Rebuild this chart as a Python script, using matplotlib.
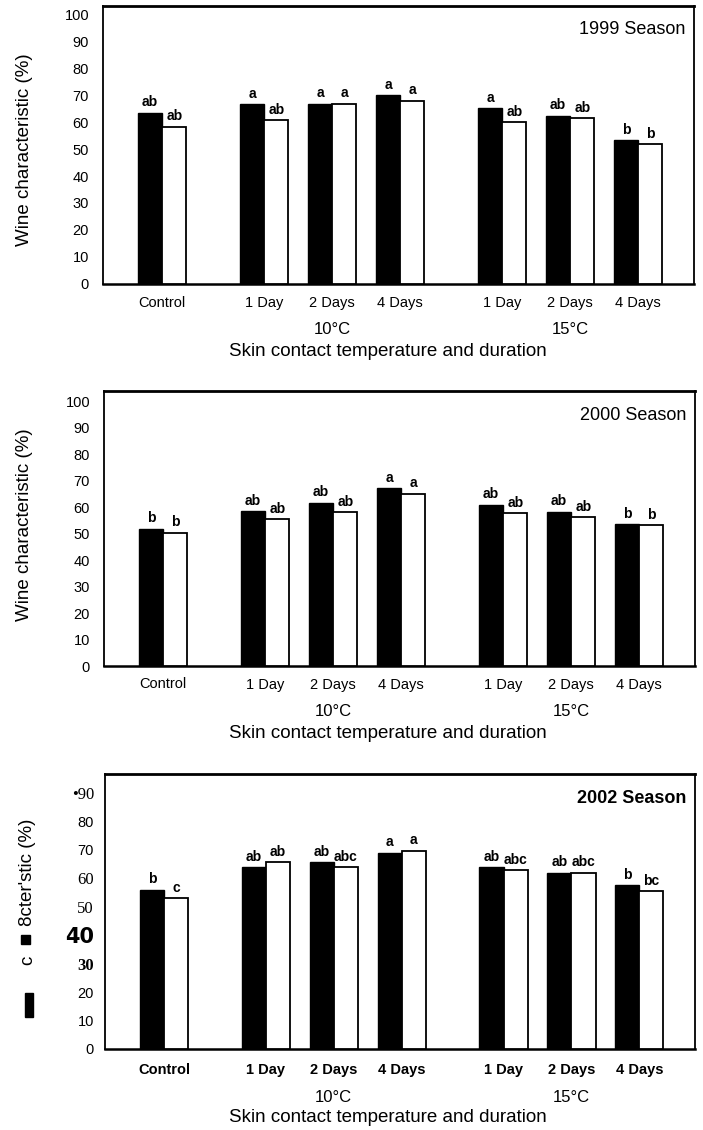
import matplotlib
matplotlib.use("Agg")
import matplotlib.pyplot as plt
import matplotlib.transforms as mtransforms
from matplotlib.patches import Rectangle

# ---------------- data ----------------
categories = ["Control", "1 Day", "2 Days", "4 Days", "1 Day", "2 Days", "4 Days"]
temp_labels = ["10°C", "15°C"]
seasons = ["1999 Season", "2000 Season", "2002 Season"]

black_1999 = [63.6, 66.7, 66.9, 70.1, 65.2, 62.5, 53.3]
white_1999 = [58.4, 60.7, 67.0, 68.1, 60.0, 61.6, 51.9]
black_let_1999 = ["ab", "a", "a", "a", "a", "ab", "b"]
white_let_1999 = ["ab", "ab", "a", "a", "ab", "ab", "b"]

black_2000 = [51.8, 58.5, 61.7, 67.0, 60.8, 58.2, 53.6]
white_2000 = [50.3, 55.4, 58.0, 65.0, 57.7, 56.2, 53.1]
black_let_2000 = ["b", "ab", "ab", "a", "ab", "ab", "b"]
white_let_2000 = ["b", "ab", "ab", "a", "ab", "ab", "b"]

black_2002 = [56.0, 64.0, 65.6, 69.0, 64.0, 61.9, 57.5]
white_2002 = [53.1, 65.6, 64.0, 69.7, 62.9, 61.9, 55.4]
black_let_2002 = ["b", "ab", "ab", "a", "ab", "ab", "b"]
white_let_2002 = ["c", "ab", "abc", "a", "abc", "abc", "bc"]

yticks_main = [0, 10, 20, 30, 40, 50, 60, 70, 80, 90, 100]
yticks_2002 = [0, 10, 20, 30, 40, 50, 60, 70, 80, 90]
ytick_labels_2002 = ["0", "10", "20", "30", "40", "50", "60", "70", "80", "•90"]

# ---------------- layout ----------------
W, H = 703, 1130
fig = plt.figure(figsize=(W / 100, H / 100), dpi=100)
fig.patch.set_facecolor("white")
SANS = ["Liberation Sans", "DejaVu Sans"]
SERIF = ["Liberation Serif", "DejaVu Serif"]
plt.rcParams["font.family"] = SANS

group_pos = [0, 1.5, 2.5, 3.5, 5, 6, 7]
bw = 0.355


def px_axes(left, right, top, bottom):
    return [left / W, 1 - bottom / H, (right - left) / W, (bottom - top) / H]


panels = [
    dict(rect=px_axes(103, 694, 5.5, 283.5), ylim=103.5, black=black_1999, white=white_1999,
         bl=black_let_1999, wl=white_let_1999, season=seasons[0], bold=False,
         xlab_y=351, temp_y=329, xpad=12.5),
    dict(rect=px_axes(104, 695, 391, 666), ylim=103.8, black=black_2000, white=white_2000,
         bl=black_let_2000, wl=white_let_2000, season=seasons[1], bold=False,
         xlab_y=733, temp_y=712, xpad=11.5),
    dict(rect=px_axes(105, 695, 774, 1049), ylim=96.7, black=black_2002, white=white_2002,
         bl=black_let_2002, wl=white_let_2002, season=seasons[2], bold=True,
         xlab_y=1117, temp_y=1097, xpad=14),
]

for i, p in enumerate(panels):
    ax = fig.add_axes(p["rect"])
    xb = [g - bw / 2 for g in group_pos]
    xw = [g + bw / 2 for g in group_pos]
    ax.bar(xb, p["black"], width=bw, color="black", edgecolor="black", linewidth=1.0, zorder=3)
    ax.bar(xw, p["white"], width=bw, color="white", edgecolor="black", linewidth=1.3, zorder=3)
    for x, v, t in zip(xb, p["black"], p["bl"]):
        ax.annotate(t, (x, v), xytext=(0, 2.5), textcoords="offset points",
                    ha="center", va="bottom", fontsize=10, fontweight="bold")
    for x, v, t in zip(xw, p["white"], p["wl"]):
        ax.annotate(t, (x, v), xytext=(0, 2.5), textcoords="offset points",
                    ha="center", va="bottom", fontsize=10, fontweight="bold")

    ax.set_xlim(-0.87, 7.82)
    ax.set_ylim(0, p["ylim"])
    for s in ax.spines.values():
        s.set_linewidth(1.3)
        s.set_color("black")
    ax.spines["top"].set_linewidth(2.0)
    ax.spines["bottom"].set_linewidth(1.8)

    ax.set_xticks(group_pos)
    ax.set_xticklabels(categories, fontsize=10.5,
                       fontweight="bold" if p["bold"] else "normal")
    ax.tick_params(axis="x", length=0, pad=p["xpad"] * 0.72)

    if i < 2:
        ax.set_yticks(yticks_main)
        ax.set_yticklabels([str(v) for v in yticks_main], fontsize=10.5)
        ax.tick_params(axis="y", length=0, pad=10)
    else:
        ax.set_yticks(yticks_2002)
        ax.set_yticklabels(ytick_labels_2002, fontsize=10.5)
        ax.tick_params(axis="y", length=0, pad=8)
        for lab in ax.get_yticklabels():
            txt = lab.get_text()
            if txt in ("50", "60", "•90"):
                lab.set_fontfamily(SERIF)
                lab.set_fontsize(12)
            elif txt == "30":
                lab.set_fontfamily(SERIF)
                lab.set_fontweight("bold")
                lab.set_fontsize(12)
            elif txt == "40":
                lab.set_fontfamily(["DejaVu Sans"])
                lab.set_fontweight("bold")
                lab.set_fontsize(15)

    ax.text(0.985, 1 - 24.5 / (p["rect"][3] * H), p["season"], transform=ax.transAxes,
            ha="right", va="center", fontsize=13,
            fontweight="bold" if p["bold"] else "normal")

    # temperature group labels under the middle bar of each group
    tr = mtransforms.blended_transform_factory(ax.transData, fig.transFigure)
    ax.text(group_pos[2], 1 - p["temp_y"] / H, temp_labels[0], transform=tr,
            ha="center", va="center", fontsize=12, clip_on=False)
    ax.text(group_pos[5], 1 - p["temp_y"] / H, temp_labels[1], transform=tr,
            ha="center", va="center", fontsize=12, clip_on=False)

    fig.text(388 / W, 1 - p["xlab_y"] / H, "Skin contact temperature and duration",
             ha="center", va="center", fontsize=13.5)

# y-axis labels
fig.text(25 / W, 1 - 150 / H, "Wine characteristic (%)", rotation=90,
         ha="center", va="center", fontsize=13.5)
fig.text(25 / W, 1 - 525 / H, "Wine characteristic (%)", rotation=90,
         ha="center", va="center", fontsize=13.5)
fig.text(28 / W, 1 - 872 / H, "8cter'stic (%)", rotation=90,
         ha="center", va="center", fontsize=13.5)
fig.text(28 / W, 1 - 960 / H, "c", rotation=90,
         ha="center", va="center", fontsize=13.5)
# scan artefact blocks next to the 2002 y axis
fig.patches.append(Rectangle((21 / W, 1 - 944 / H), 9 / W, 9 / H, transform=fig.transFigure,
                             color="black", zorder=5))
fig.patches.append(Rectangle((25 / W, 1 - 1017 / H), 8 / W, 24 / H, transform=fig.transFigure,
                             color="black", zorder=5))

fig.savefig("out.png", dpi=100, facecolor="white")
